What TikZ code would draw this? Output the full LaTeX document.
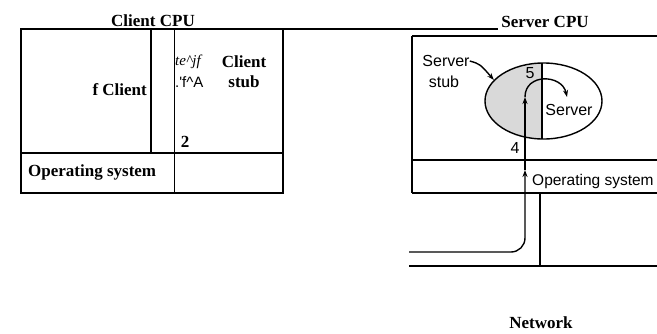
\documentclass[tikz,border=0pt]{standalone}
\usepackage{fontspec}
\setmainfont{Liberation Serif}
\newfontfamily\arialf{Liberation Sans}
\usetikzlibrary{arrows.meta,shapes.geometric}
\begin{document}
\begin{tikzpicture}[x=1pt,y=-1pt,
  serif/.style={font=\fontsize{17}{19}\selectfont\bfseries, inner sep=0pt},
  sanslab/.style={font=\arialf\fontsize{16}{17}\selectfont, inner sep=0pt},
  boxline/.style={line width=1.6pt},
  srvline/.style={line width=1.4pt},
  tip/.style={-{Stealth[length=7pt,width=5pt]}}]
\useasboundingbox (0,0) rectangle (657,333);
% ---------- Client side ----------
\draw[line width=2.6pt] (25,29) -- (498,29);
\draw[boxline] (20.7,29) rectangle (283,193);
\draw[boxline] (20.7,153) -- (283,153);
\draw[boxline] (150.7,29) -- (150.7,153);
\draw[boxline] (174.5,29) -- (174.5,193);
\node[serif] (ccpu) at (153,21) {Client CPU};
\node[serif, anchor=east] (fcl) at (147,90) {f Client};
\node[font=\fontsize{15}{16}\selectfont\itshape, inner sep=0pt, anchor=west] (g1) at (175,62) {te\^{}jf};
\node[sanslab, font=\arialf\fontsize{15}{16}\selectfont, anchor=west] (g2) at (175,82) {.'f\^{}A};
\node[serif] (cst1) at (244,62) {Client};
\node[serif] (cst2) at (244,82) {stub};
\node[serif] (two) at (185,142) {2};
\node[serif, anchor=west] (cos) at (28,172) {Operating system};
% ---------- Server side ----------
\node[serif] (scpu) at (545,22) {Server CPU};
\draw[srvline] (412,36) -- (657,36);
\draw[srvline] (412,36) -- (412,193);
\draw[srvline] (412,160) -- (657,160);
\draw[srvline] (412,193) -- (657,193);
% ellipse with shaded stub half
\begin{scope}
  \clip (480,55) rectangle (542,145);
  \fill[gray!30] (543.5,101) ellipse [x radius=58.5, y radius=38];
\end{scope}
\node[draw, ellipse, line width=1.4pt, minimum width=117pt, minimum height=76pt, inner sep=0pt] (ell) at (543.5,101) {};
\draw[srvline] (542,63) -- (542,139);
\node[sanslab] (sst1) at (446,61) {Server};
\node[sanslab] (sst2) at (444,82) {stub};
\draw[srvline, tip] (sst1.east) .. controls (480,64) .. (ell.157);
\node[sanslab] (five) at (530,73) {5};
\node[sanslab] (srv) at (569,110) {Server};
\node[sanslab] (four) at (515,148) {4};
\node[sanslab, font=\arialf\fontsize{15.5}{17}\selectfont, anchor=west] (sos) at (532,181) {Operating system};
% network lines and message path
\coordinate (nl) at (409,252);
\coordinate (a1) at (525,170);
\coordinate (a2) at (525,97);
\coordinate (a3) at (567,97);
\draw[srvline, tip, rounded corners=14pt] (nl) -| (a1);
\draw[srvline, tip] (a1) -- (a2);
\draw[srvline, tip] (a2) .. controls (525,73) and (562,74) .. (a3);
\coordinate (r1) at (540,193);
\coordinate (r2) at (540,266);
\coordinate (b1) at (409,266);
\coordinate (b2) at (657,266);
\draw[srvline] (r1) -- (r2);
\draw[srvline] (b1) -- (b2);
\node[serif] (net) at (541,323) {Network};
\end{tikzpicture}
\end{document}
